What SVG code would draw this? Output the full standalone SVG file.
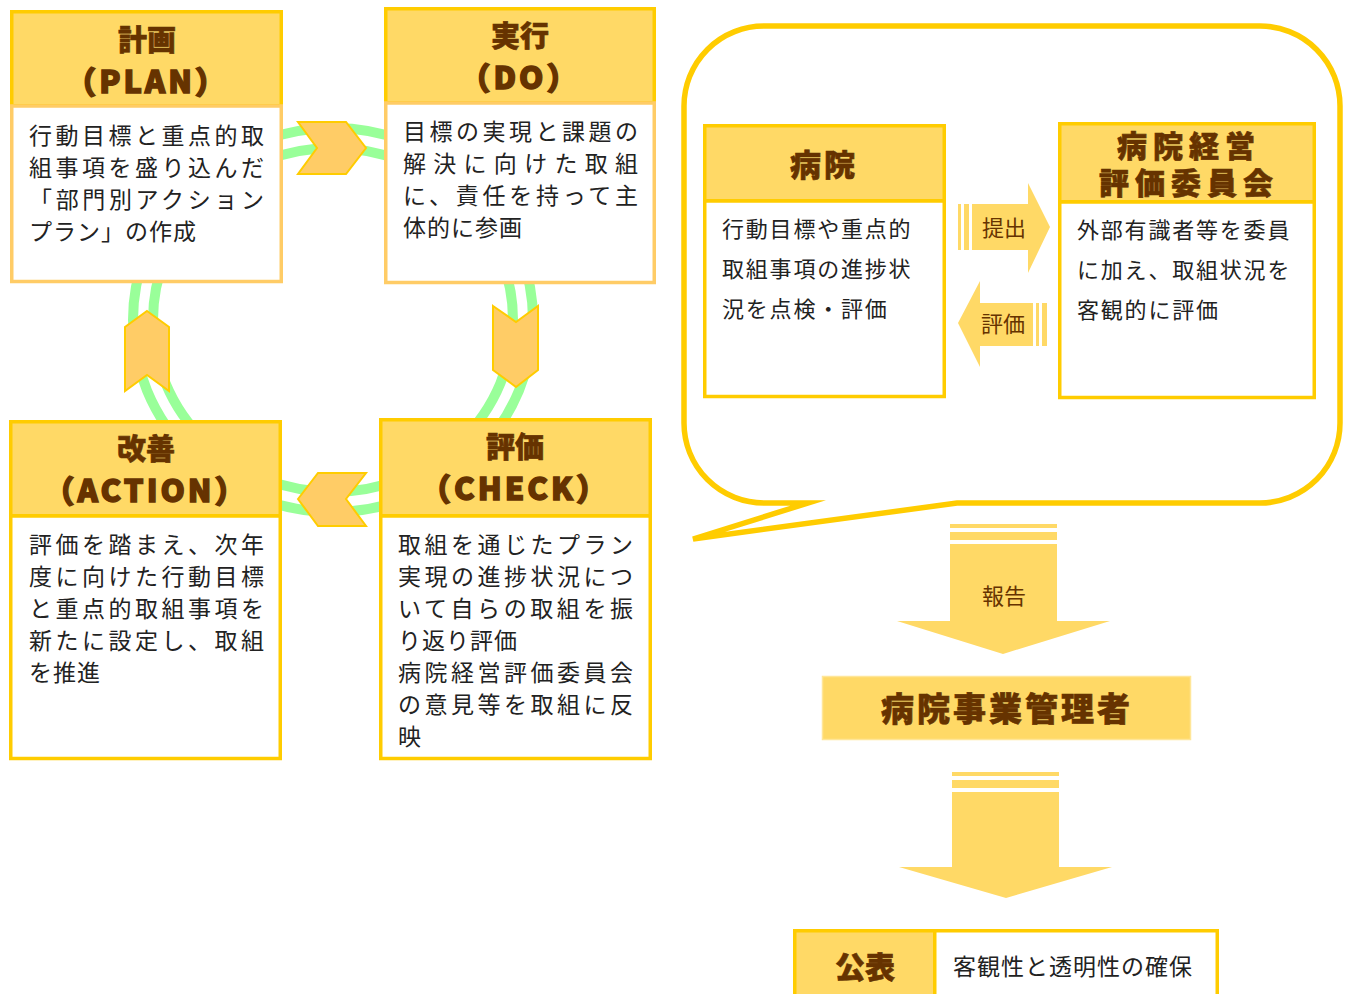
<svg xmlns="http://www.w3.org/2000/svg" width="1351" height="994" viewBox="0 0 1351 994">
<style>
.hd{fill:#FFD966;stroke:#FFCC00;stroke-width:3.5}
.bd{fill:#fff;stroke:#FFCC00;stroke-width:3.5}
.bdo{fill:#fff;stroke:#FFCC66;stroke-width:3.5}
.ttl{font-family:"Noto Sans CJK JP","Noto Sans",sans-serif;font-weight:900;fill:#663300;text-anchor:middle;stroke:#663300;stroke-width:0.6}
.en{stroke-width:1.4;letter-spacing:3px}
.body{font-family:"Noto Sans CJK JP","Noto Sans",sans-serif;font-size:23px;fill:#222;letter-spacing:1px}
.body2{font-family:"Noto Sans CJK JP","Noto Sans",sans-serif;font-size:22px;fill:#222;letter-spacing:1.8px}
.lbl{font-family:"Noto Sans CJK JP","Noto Sans",sans-serif;font-size:22px;fill:#663300;text-anchor:middle}
.chev{fill:#FFCC66;stroke:#FFCC00;stroke-width:2}
.arr{fill:#FFD966}
.ring{fill:none;stroke:#99FF99;stroke-width:10}
</style>
<rect width="1351" height="994" fill="#fff"/>
<g id="connectors">
<ellipse class="ring" cx="333" cy="320" rx="200" ry="192"/>
<ellipse class="ring" cx="333" cy="320" rx="180" ry="172"/>
</g>
<g id="plan">
<rect class="hd" x="11.75" y="11.75" width="269.5" height="94"/>
<rect class="bdo" x="11.75" y="106" width="269.5" height="175.5"/>
<text class="ttl" x="147" y="51" font-size="29">計画</text>
<text class="ttl en" x="147" y="93" font-size="31">（PLAN）</text>
<text class="body" x="29" y="144" textLength="236" lengthAdjust="spacing">行動目標と重点的取</text>
<text class="body" x="29" y="176" textLength="236" lengthAdjust="spacing">組事項を盛り込んだ</text>
<text class="body" x="29" y="208" textLength="236" lengthAdjust="spacing">「部門別アクション</text>
<text class="body" x="29" y="240">プラン」の作成</text>
</g>
<g id="do">
<rect class="hd" x="385.75" y="8.75" width="268.5" height="94"/>
<rect class="bdo" x="385.75" y="103" width="268.5" height="179.5"/>
<text class="ttl" x="520" y="47" font-size="29">実行</text>
<text class="ttl en" x="520" y="89" font-size="31">（DO）</text>
<text class="body" x="403" y="140" textLength="236" lengthAdjust="spacing">目標の実現と課題の</text>
<text class="body" x="403" y="172" textLength="236" lengthAdjust="spacing">解決に向けた取組</text>
<text class="body" x="403" y="204" textLength="236" lengthAdjust="spacing">に、責任を持って主</text>
<text class="body" x="403" y="236">体的に参画</text>
</g>
<g id="check">
<rect class="hd" x="380.75" y="419.75" width="269.5" height="96"/>
<rect class="bd" x="380.75" y="516" width="269.5" height="242.5"/>
<text class="ttl" x="515" y="458" font-size="29">評価</text>
<text class="ttl en" x="515" y="500" font-size="31">（CHECK）</text>
<text class="body" x="398" y="553" textLength="236" lengthAdjust="spacing">取組を通じたプラン</text>
<text class="body" x="398" y="585" textLength="236" lengthAdjust="spacing">実現の進捗状況につ</text>
<text class="body" x="398" y="617" textLength="236" lengthAdjust="spacing">いて自らの取組を振</text>
<text class="body" x="398" y="649">り返り評価</text>
<text class="body" x="398" y="681" textLength="236" lengthAdjust="spacing">病院経営評価委員会</text>
<text class="body" x="398" y="713" textLength="236" lengthAdjust="spacing">の意見等を取組に反</text>
<text class="body" x="398" y="745">映</text>
</g>
<g id="action">
<rect class="hd" x="10.75" y="421.75" width="269.5" height="94"/>
<rect class="bd" x="10.75" y="516" width="269.5" height="242.5"/>
<text class="ttl" x="146" y="460" font-size="29">改善</text>
<text class="ttl en" x="146" y="502" font-size="31">（ACTION）</text>
<text class="body" x="29" y="553" textLength="236" lengthAdjust="spacing">評価を踏まえ、次年</text>
<text class="body" x="29" y="585" textLength="236" lengthAdjust="spacing">度に向けた行動目標</text>
<text class="body" x="29" y="617" textLength="236" lengthAdjust="spacing">と重点的取組事項を</text>
<text class="body" x="29" y="649" textLength="236" lengthAdjust="spacing">新たに設定し、取組</text>
<text class="body" x="29" y="681">を推進</text>
</g>
<g id="chevrons">
<polygon class="chev" points="298,122 346,122 366,148 346,174 298,174 317,148"/>
<polygon class="chev" points="493,306 516,322 538,306 538,370 516,387 493,370"/>
<polygon class="chev" points="147,311 169,327 169,391 147,375 125,391 125,327"/>
<polygon class="chev" points="298,499 318,473 366,473 346,499 366,526 318,526"/>
</g>
<g id="bubble">
<path d="M764,26 H1260 A80,80 0 0 1 1340,106 V423 A80,80 0 0 1 1260,503 H957 L693,539 L808,503 H764 A80,80 0 0 1 684,423 V106 A80,80 0 0 1 764,26 Z" fill="#fff" stroke="#FFCC00" stroke-width="5.5" stroke-linejoin="miter" stroke-miterlimit="10"/>
</g>
<g id="hospital">
<rect class="hd" x="704.75" y="125.75" width="239.5" height="75"/>
<rect class="bd" x="704.75" y="201" width="239.5" height="195.5"/>
<text class="ttl" x="824" y="176" font-size="31" letter-spacing="3">病院</text>
<text class="body2" x="722" y="237">行動目標や重点的</text>
<text class="body2" x="722" y="277">取組事項の進捗状</text>
<text class="body2" x="722" y="317">況を点検・評価</text>
</g>
<g id="committee">
<rect class="hd" x="1059.75" y="123.75" width="254.5" height="78"/>
<rect class="bd" x="1059.75" y="202" width="254.5" height="195.5"/>
<text class="ttl" x="1189" y="157" font-size="30" letter-spacing="6">病院経営</text>
<text class="ttl" x="1189" y="194" font-size="30" letter-spacing="6">評価委員会</text>
<text class="body2" x="1077" y="238">外部有識者等を委員</text>
<text class="body2" x="1077" y="278">に加え、取組状況を</text>
<text class="body2" x="1077" y="318">客観的に評価</text>
</g>
<g id="arrow-submit">
<rect class="arr" x="958" y="204" width="3" height="46"/>
<rect class="arr" x="964" y="204" width="5" height="46"/>
<polygon class="arr" points="972,204 1028,204 1028,183 1050,227 1028,273 1028,250 972,250"/>
<text class="lbl" x="1004" y="236">提出</text>
</g>
<g id="arrow-eval">
<rect class="arr" x="1036" y="303" width="3" height="43"/>
<rect class="arr" x="1042" y="303" width="5" height="43"/>
<polygon class="arr" points="1033,303 980,303 980,281 958,323 980,367 980,346 1033,346"/>
<text class="lbl" x="1003" y="332">評価</text>
</g>
<g id="arrow-report">
<rect class="arr" x="950" y="524" width="107" height="4"/>
<rect class="arr" x="950" y="532" width="107" height="8"/>
<polygon class="arr" points="950,544 1057,544 1057,621 1110,621 1003,654 897,621 950,621"/>
<text class="lbl" x="1004" y="604">報告</text>
</g>
<g id="manager">
<rect x="822.5" y="676.5" width="368" height="63" fill="#FFD966" stroke="#FFE699" stroke-width="1.5"/>
<text class="ttl" x="1007" y="721" font-size="33" letter-spacing="3">病院事業管理者</text>
</g>
<g id="arrow-publish">
<rect class="arr" x="952" y="772" width="107" height="4"/>
<rect class="arr" x="952" y="780" width="107" height="8"/>
<polygon class="arr" points="952,792 1059,792 1059,867 1112,867 1006,898 899,867 952,867"/>
</g>
<g id="publish">
<rect x="794.75" y="930.75" width="140" height="70" fill="#FFD966" stroke="#FFCC00" stroke-width="3.5"/>
<rect x="934.75" y="930.75" width="282.5" height="70" fill="#fff" stroke="#FFCC00" stroke-width="3.5"/>
<text class="ttl" x="865" y="978" font-size="30">公表</text>
<text x="953" y="975" font-family="'Noto Sans CJK JP','Noto Sans',sans-serif" font-size="23" fill="#222" letter-spacing="1">客観性と透明性の確保</text>
</g>
</svg>
